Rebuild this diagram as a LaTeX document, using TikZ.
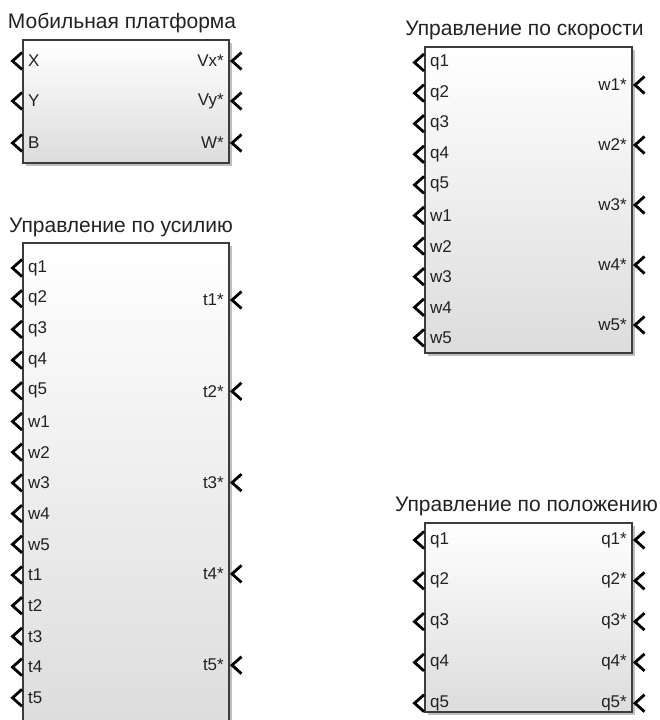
\documentclass[tikz,border=0pt]{standalone}
\usepackage{fontspec}
\setmainfont{Liberation Sans}
\usetikzlibrary{shadows}
\definecolor{edgegray}{HTML}{3C3C3C}
\definecolor{botgray}{HTML}{DCDCDC}
\definecolor{txt}{HTML}{222222}
\tikzset{
  blk/.style={draw=edgegray, line width=1.2pt, top color=white, bottom color=botgray,
    anchor=north west, inner sep=0pt, outer sep=0pt,
    drop shadow={shadow xshift=2.5pt, shadow yshift=-2.5pt, fill=black, opacity=.25}},
  ttl/.style={font=\fontsize{21}{24}\selectfont, text=txt, anchor=base, inner sep=0pt},
  plab/.style={font=\fontsize{17}{19}\selectfont, text=txt, inner sep=0pt},
  chev/.style={line width=2.8pt, line join=miter, line cap=butt},
}
\newcommand{\inport}[3]{% block, y, label
  \draw[chev] ([xshift=-1pt]#1.west |- 0,#2) ++(0pt,8.5pt) -- ++(-9.5pt,-8.5pt) -- ++(9.5pt,-8.5pt);
  \node[plab, anchor=west] at ([xshift=5pt]#1.west |- 0,#2) {#3};}
\newcommand{\outport}[3]{%
  \draw[chev] ([xshift=12.5pt]#1.east |- 0,#2) ++(0pt,8.5pt) -- ++(-9.5pt,-8.5pt) -- ++(9.5pt,-8.5pt);
  \node[plab, anchor=east] at ([xshift=-5pt]#1.east |- 0,#2) {#3};}
\begin{document}
\begin{tikzpicture}[x=1pt,y=-1pt]
\useasboundingbox (0,0) rectangle (659,720);
% Block 1
\node[blk, minimum width=206pt, minimum height=123pt] (b1) at (23,40) {};
\node[ttl] (t1) at ([xshift=-4pt,yshift=12pt]b1.north) {Мобильная платформа};
\inport{b1}{61}{X}\inport{b1}{101}{Y}\inport{b1}{143}{B}
\outport{b1}{61}{Vx*}\outport{b1}{101}{Vy*}\outport{b1}{143}{W*}
% Block 2
\node[blk, minimum width=206pt, minimum height=490pt] (b2) at (23,243) {};
\node[ttl] (t2) at ([xshift=-5pt,yshift=11pt]b2.north) {Управление по усилию};
\foreach \l [count=\i from 0] in {q1,q2,q3,q4,q5,w1,w2,w3,w4,w5,t1,t2,t3,t4,t5}{
  \pgfmathsetmacro{\yy}{268+30.7*\i}
  \inport{b2}{\yy}{\l}}
\foreach \l [count=\i from 0] in {t1*,t2*,t3*,t4*,t5*}{
  \pgfmathsetmacro{\yy}{300+91.3*\i}
  \outport{b2}{\yy}{\l}}
% Block 3
\node[blk, minimum width=207pt, minimum height=306pt] (b3) at (425,47) {};
\node[ttl] (t3) at ([xshift=-4pt,yshift=12pt]b3.north) {Управление по скорости};
\foreach \l [count=\i from 0] in {q1,q2,q3,q4,q5,w1,w2,w3,w4,w5}{
  \pgfmathsetmacro{\yy}{62.5+30.6*\i}
  \inport{b3}{\yy}{\l}}
\foreach \l [count=\i from 0] in {w1*,w2*,w3*,w4*,w5*}{
  \pgfmathsetmacro{\yy}{85+60*\i}
  \outport{b3}{\yy}{\l}}
% Block 4
\node[blk, minimum width=207pt, minimum height=189pt] (b4) at (425,523) {};
\node[ttl] (t4) at ([xshift=-2pt,yshift=12pt]b4.north) {Управление по положению};
\foreach \l [count=\i from 0] in {1,2,3,4,5}{
  \pgfmathsetmacro{\yy}{540+40.8*\i}
  \inport{b4}{\yy}{q\l}
  \outport{b4}{\yy}{q\l*}}
\end{tikzpicture}
\end{document}
